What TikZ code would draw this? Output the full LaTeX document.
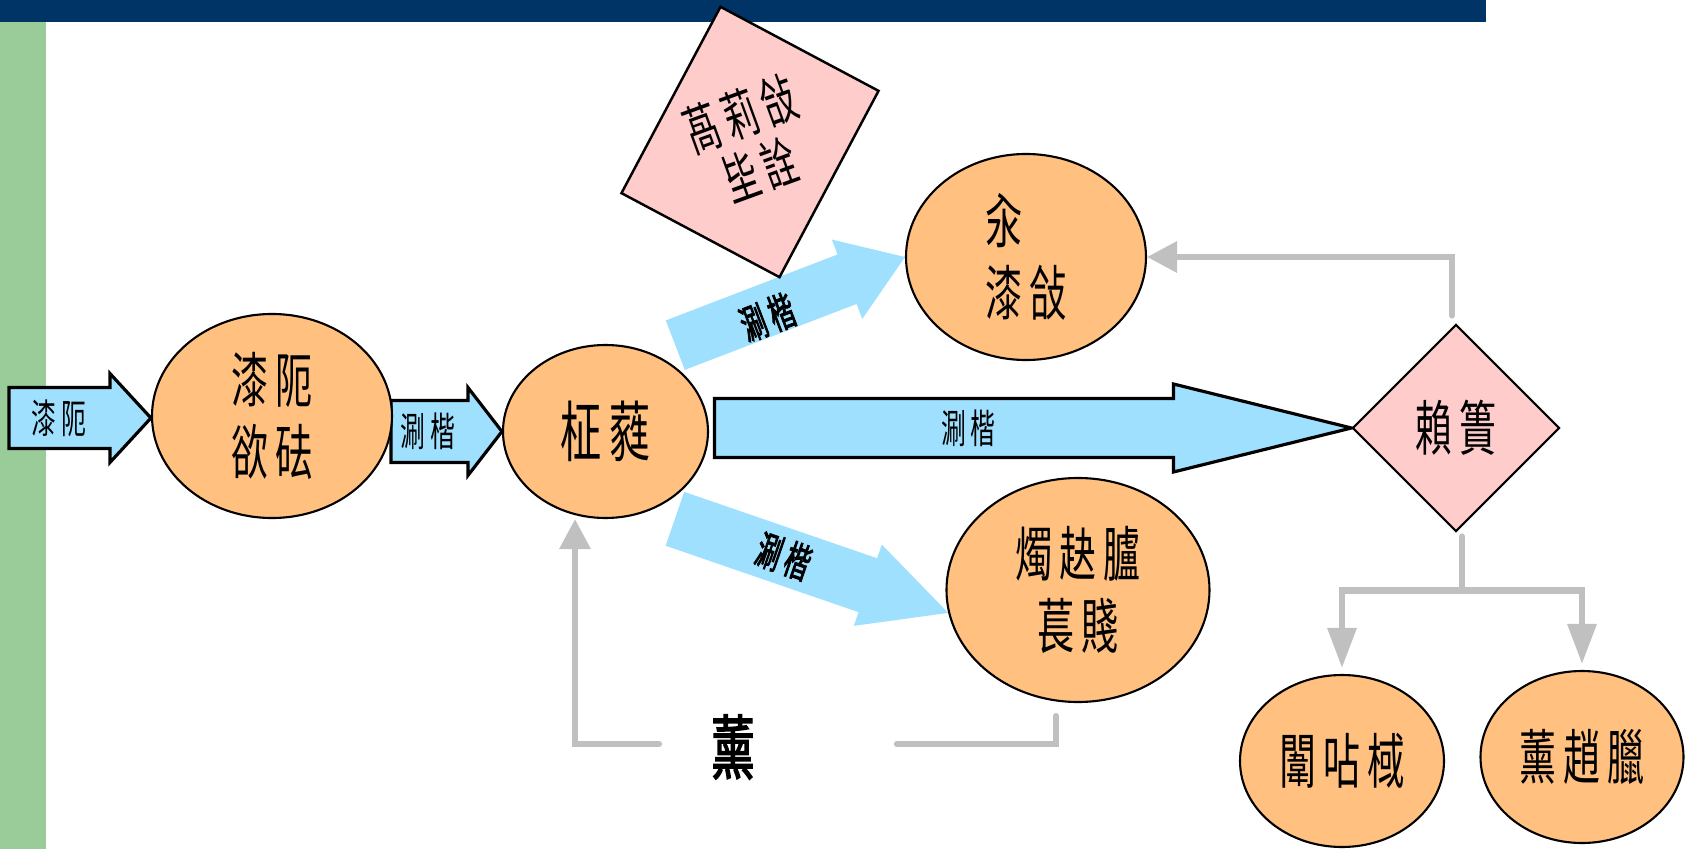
\documentclass[tikz,border=0pt]{standalone}
\usepackage{fontspec}
\usetikzlibrary{arrows.meta, positioning, shapes.geometric, backgrounds}
\newfontfamily\cjk[FakeStretch=0.62, LetterSpace=12]{Noto Sans CJK SC}
\newfontfamily\cjkbold[FakeStretch=0.62, LetterSpace=12, FakeBold=2]{Noto Sans CJK SC}
\definecolor{barblue}{RGB}{0,51,102}
\definecolor{bargreen}{RGB}{153,204,153}
\definecolor{bubbleorange}{RGB}{255,192,128}
\definecolor{flowblue}{RGB}{160,224,255}
\definecolor{notepink}{RGB}{255,204,204}
\definecolor{loopgray}{RGB}{192,192,192}

\begin{document}
\begin{tikzpicture}[
    bubble/.style={ellipse, draw=black, line width=0.6pt, fill=bubbleorange, inner sep=0pt, align=center, font=\cjk\fontsize{17pt}{20.5pt}\selectfont},
    decision/.style={diamond, aspect=1, draw=black, line width=0.6pt, fill=notepink, inner sep=0pt, minimum size=2.07cm, font=\cjk\fontsize{17pt}{20.5pt}\selectfont},
    notebox/.style={rectangle, draw=black, line width=0.7pt, fill=notepink, minimum width=1.79cm, minimum height=2.11cm, rotate=-28},
    notetext/.style={align=center, inner sep=0pt, rotate=20, font=\cjk\fontsize{15.5pt}{17pt}\selectfont},
    flow/.style={fill=flowblue, draw=black, line width=0.9pt},
    flowlabel/.style={inner sep=0pt, font=\cjk\fontsize{11.4pt}{13pt}\selectfont},
    diaglabel/.style={inner sep=0pt, font=\cjkbold\fontsize{11.5pt}{13pt}\selectfont},
    loopline/.style={draw=loopgray, line width=1.8pt, line cap=round},
    grayhead/.style={-{Triangle[length=0.3cm, width=0.3cm]}},
    longhead/.style={-{Triangle[length=0.4cm, width=0.28cm]}},
    looplabel/.style={inner sep=0pt, font=\cjkbold\fontsize{20pt}{24pt}\selectfont}
]
    \useasboundingbox (0,0) rectangle (16.91,-8.49);

    % bubbles
    \node[bubble, minimum width=2.40cm, minimum height=2.04cm] (ell1) at (2.72,-4.16) {漆阨\\欲砝};
    \node[bubble, minimum width=2.05cm, minimum height=1.73cm, font=\cjk\fontsize{18.8pt}{22pt}\selectfont] (ell2) at (6.055,-4.315) {柾蕤};
    \node[bubble, minimum width=2.40cm, minimum height=2.06cm, align=left] (ell3) at (10.26,-2.57) {汆\\漆敆};
    \node[bubble, minimum width=2.63cm, minimum height=2.24cm] (ell4) at (10.78,-5.90) {燭赽臚\\萇賤};
    \node[decision] (dia) at (14.56,-4.28) {賴簣};
    \node[bubble, minimum width=2.04cm, minimum height=1.72cm] (ell5) at (13.42,-7.61) {闈呫棫};
    \node[bubble, minimum width=2.03cm, minimum height=1.72cm] (ell6) at (15.82,-7.57) {薰趙臘};

    % rotated note
    \node[notebox] (note) at (7.50,-1.42) {};
    \node[notetext] (notelabel) at (note.center) {萵莉敆\\坒詮};

    \begin{scope}[on background layer]
        \fill[white] (0,0) rectangle (16.91,-8.49);
        \fill[barblue] (0,0) rectangle (14.86,-0.22);
        \fill[bargreen] (0,-0.22) rectangle (0.46,-8.49);

        % block arrows with outline
        \draw[flow] ([yshift=-0.02cm]ell1.west) -- ++(-0.41,0.445) -- ++(0,-0.14) -- ++(-1.01,0)
            -- ++(0,-0.61) -- ++(1.01,0) -- ++(0,-0.14) -- cycle;
        \draw[flow] (ell2.west) -- ++(-0.34,0.44) -- ++(0,-0.13) -- ++(-0.77,0)
            -- ++(0,-0.62) -- ++(0.77,0) -- ++(0,-0.13) -- cycle;
        \draw[flow] (dia.west) -- ++(-1.78,0.44) -- ++(0,-0.145) -- ++(-4.59,0)
            -- ++(0,-0.59) -- ++(4.59,0) -- ++(0,-0.145) -- cycle;

        % slanted arrows, no outline
        \begin{scope}[shift={(ell3.west)}, rotate=21]
            \fill[flowblue] (0,0) -- (-0.62,0.425) -- (-0.62,0.265) -- (-2.46,0.265)
                -- (-2.46,-0.265) -- (-0.62,-0.265) -- (-0.62,-0.425) -- cycle;
        \end{scope}
        \begin{scope}[shift={(ell4.190)}, rotate=-19]
            \fill[flowblue] (0,0) -- (-0.85,0.43) -- (-0.85,0.285) -- (-2.89,0.285)
                -- (-2.89,-0.285) -- (-0.85,-0.285) -- (-0.85,-0.43) -- cycle;
        \end{scope}
    \end{scope}

    % arrow labels
    \node[flowlabel] (inlabel) at ([xshift=-0.92cm, yshift=-0.02cm]ell1.west) {漆阨};
    \node[flowlabel] (steplabel) at ([xshift=-0.74cm]ell2.west) {涮楷};
    \node[flowlabel] (mainlabel) at ([xshift=-3.83cm]dia.west) {涮楷};
    \begin{scope}[shift={(ell3.west)}, rotate=21]
        \node[diaglabel, rotate=21] (uplabel) at (-1.50,-0.07) {涮楷};
    \end{scope}
    \begin{scope}[shift={(ell4.190)}, rotate=-19]
        \node[diaglabel, rotate=-19] (downlabel) at (-1.74,0) {涮楷};
    \end{scope}

    % gray connectors
    \draw[loopline, grayhead] ([xshift=-0.04cm, yshift=0.08cm]dia.north) |- (ell3.east);
    \coordinate (split) at ([xshift=0.06cm, yshift=-0.58cm]dia.south);
    \draw[loopline] ([xshift=0.06cm, yshift=-0.04cm]dia.south) -- (split);
    \draw[loopline, longhead, shorten >=0.06cm] (split) -| (ell5.north);
    \draw[loopline, longhead, shorten >=0.06cm] (split) -| (ell6.north);

    % feedback loop
    \node[looplabel] (loopnote) at (7.33,-7.47) {薰};
    \draw[loopline] ([xshift=-0.22cm, yshift=-0.13cm]ell4.south) |- ([xshift=1.64cm, yshift=0.03cm]loopnote.center);
    \draw[loopline, grayhead] ([xshift=-0.74cm, yshift=0.03cm]loopnote.center) -| ([xshift=-0.305cm]ell2.south);

\end{tikzpicture}
\end{document}
